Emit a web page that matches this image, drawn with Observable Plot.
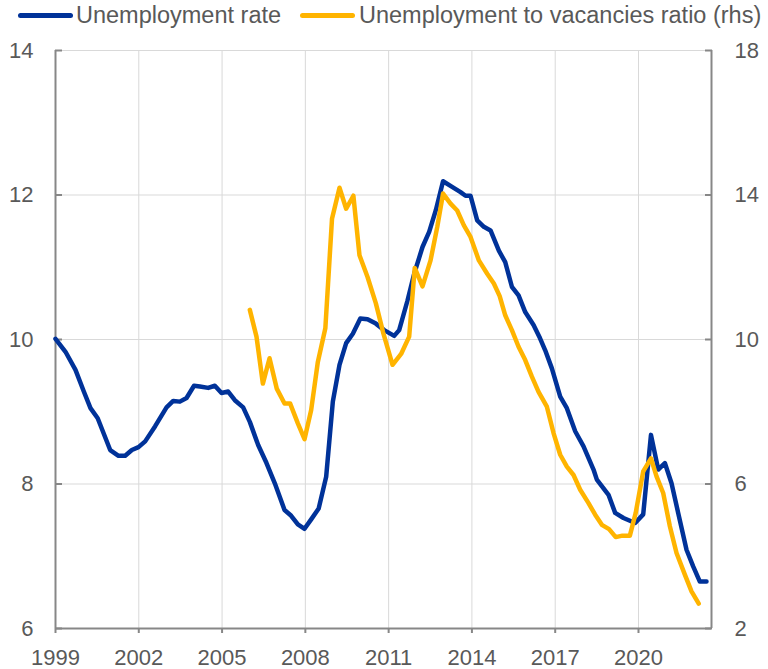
<!DOCTYPE html>
<html><head><meta charset="utf-8">
<script src="https://cdn.jsdelivr.net/npm/d3@7"></script>
<script src="https://cdn.jsdelivr.net/npm/@observablehq/plot@0.6"></script>
<style>
body{margin:0;background:#fff;font-family:"Liberation Sans",Arial,sans-serif;}
#legend{position:relative;height:34px;width:768px;color:#595959;font-size:23.5px;}
.sw{position:absolute;top:13px;width:55px;height:5px;border-radius:3px;}
.lt{position:absolute;top:0;line-height:30px;white-space:nowrap;}
</style></head><body>
<div id="legend"></div>
<div id="chart"></div>
<script>
// ---- data ----
const seriesNames = ["Unemployment rate", "Unemployment to vacancies ratio (rhs)"];
const seriesColors = ["#003299", "#FFB400"];

const xTicks = [1999, 2002, 2005, 2008, 2011, 2014, 2017, 2020];
const xDomain = [1999, 2022.63];
const yLeftTicks = [6, 8, 10, 12, 14];
const yRightTicks = [2, 6, 10, 14, 18];

// Unemployment rate (lhs, %)
const urYears = [1999.0,1999.36,1999.72,2000.02,2000.26,2000.52,2000.97,2001.27,2001.51,2001.75,2001.99,2002.23,2002.59,2003.0,2003.24,2003.48,2003.72,2003.99,2004.2,2004.5,2004.74,2004.98,2005.22,2005.46,2005.76,2006.0,2006.3,2006.6,2006.9,2007.25,2007.49,2007.73,2007.97,2008.21,2008.48,2008.75,2008.99,2009.23,2009.47,2009.71,2009.98,2010.24,2010.54,2010.84,2011.2,2011.38,2011.68,2011.92,2012.22,2012.46,2012.7,2012.96,2013.3,2013.59,2013.77,2013.95,2014.19,2014.43,2014.67,2014.97,2015.2,2015.44,2015.68,2015.92,2016.22,2016.45,2016.64,2016.88,2017.18,2017.42,2017.72,2018.02,2018.38,2018.5,2018.92,2019.16,2019.46,2019.88,2020.17,2020.45,2020.71,2020.95,2021.19,2021.43,2021.73,2021.97,2022.21,2022.45];
const urValues = [10.01,9.83,9.58,9.28,9.05,8.91,8.47,8.39,8.39,8.47,8.51,8.59,8.80,9.06,9.15,9.14,9.19,9.36,9.35,9.33,9.36,9.26,9.28,9.16,9.06,8.86,8.54,8.29,8.01,7.64,7.56,7.44,7.38,7.51,7.66,8.10,9.14,9.65,9.95,10.08,10.29,10.28,10.22,10.13,10.05,10.13,10.54,10.91,11.28,11.49,11.79,12.19,12.11,12.04,11.99,11.99,11.65,11.56,11.51,11.23,11.07,10.73,10.61,10.38,10.20,10.02,9.85,9.60,9.21,9.05,8.73,8.52,8.20,8.06,7.85,7.60,7.53,7.46,7.58,8.68,8.20,8.29,8.01,7.60,7.09,6.86,6.65,6.65];

// Unemployment to vacancies ratio (rhs)
const uvYears = [2006.0,2006.24,2006.47,2006.71,2006.97,2007.25,2007.45,2007.73,2007.97,2008.21,2008.45,2008.72,2008.96,2009.23,2009.47,2009.73,2009.95,2010.24,2010.54,2010.8,2011.14,2011.45,2011.74,2011.94,2012.22,2012.51,2012.75,2012.96,2013.23,2013.47,2013.71,2013.95,2014.25,2014.55,2014.79,2015.0,2015.2,2015.44,2015.68,2015.92,2016.16,2016.4,2016.7,2016.94,2017.18,2017.42,2017.66,2017.9,2018.2,2018.44,2018.68,2018.94,2019.18,2019.42,2019.69,2019.9,2020.17,2020.45,2020.65,2020.89,2021.13,2021.37,2021.67,2021.91,2022.17];
const uvValues = [10.82,10.08,8.78,9.48,8.64,8.23,8.23,7.68,7.24,8.05,9.38,10.31,13.34,14.2,13.62,13.98,12.33,11.73,11.0,10.2,9.3,9.6,10.08,11.98,11.47,12.19,13.11,14.04,13.76,13.57,13.16,12.84,12.19,11.82,11.55,11.2,10.67,10.26,9.80,9.43,8.97,8.55,8.14,7.41,6.81,6.48,6.25,5.84,5.47,5.15,4.87,4.75,4.53,4.57,4.57,5.20,6.35,6.71,6.21,5.75,4.83,4.09,3.49,3.03,2.69];

// ---- legend ----
const legend = document.getElementById("legend");
const legendPos = [[18, 76], [300, 359]];
seriesNames.forEach((name, i) => {
  const sw = document.createElement("div");
  sw.className = "sw"; sw.style.left = legendPos[i][0] + "px"; sw.style.background = seriesColors[i];
  legend.appendChild(sw);
  const t = document.createElement("span");
  t.className = "lt"; t.style.left = legendPos[i][1] + "px"; t.textContent = name;
  legend.appendChild(t);
});

// ---- chart ----
const toLeft = r => (r + 10) / 2;
const urData = urYears.map((x, i) => ({x, y: urValues[i]}));
const uvData = uvYears.map((x, i) => ({x, y: toLeft(uvValues[i])}));
const axisGrey = "#878787", gridGrey = "#d9d9d9", textGrey = "#595959";

const chart = Plot.plot({
  width: 768, height: 635,
  marginLeft: 55, marginRight: 57, marginTop: 16, marginBottom: 41,
  x: {domain: xDomain},
  y: {domain: [6, 14]},
  style: {fontSize: "22px", fontFamily: "'Liberation Sans', Arial, sans-serif", color: textGrey, background: "#fff", overflow: "visible"},
  marks: [
    Plot.gridX(xTicks, {stroke: gridGrey, strokeOpacity: 1, strokeWidth: 1}),
    Plot.gridY(yLeftTicks, {stroke: gridGrey, strokeOpacity: 1, strokeWidth: 1}),
    Plot.ruleX(xDomain, {stroke: axisGrey, strokeWidth: 2}),
    Plot.ruleY([6], {stroke: axisGrey, strokeWidth: 2}),
    Plot.axisX(xTicks, {tickFormat: "d", tickSize: 5, tickPadding: 16, stroke: axisGrey, strokeWidth: 2, fill: textGrey, label: null}),
    Plot.axisY(yLeftTicks, {anchor: "left", tickSize: -7, tickPadding: 29, tickFormat: d => String(d), stroke: axisGrey, strokeWidth: 2, fill: textGrey, label: null}),
    Plot.axisY(yRightTicks.map(toLeft), {anchor: "right", tickSize: -7, tickPadding: 30, tickFormat: d => String(2 * d - 10), stroke: axisGrey, strokeWidth: 2, fill: textGrey, label: null}),
    Plot.line(urData, {x: "x", y: "y", stroke: seriesColors[0], strokeWidth: 4.5, strokeLinejoin: "round", strokeLinecap: "round"}),
    Plot.line(uvData, {x: "x", y: "y", stroke: seriesColors[1], strokeWidth: 4.5, strokeLinejoin: "round", strokeLinecap: "round"})
  ]
});
document.getElementById("chart").appendChild(chart);
</script>
</body></html>
